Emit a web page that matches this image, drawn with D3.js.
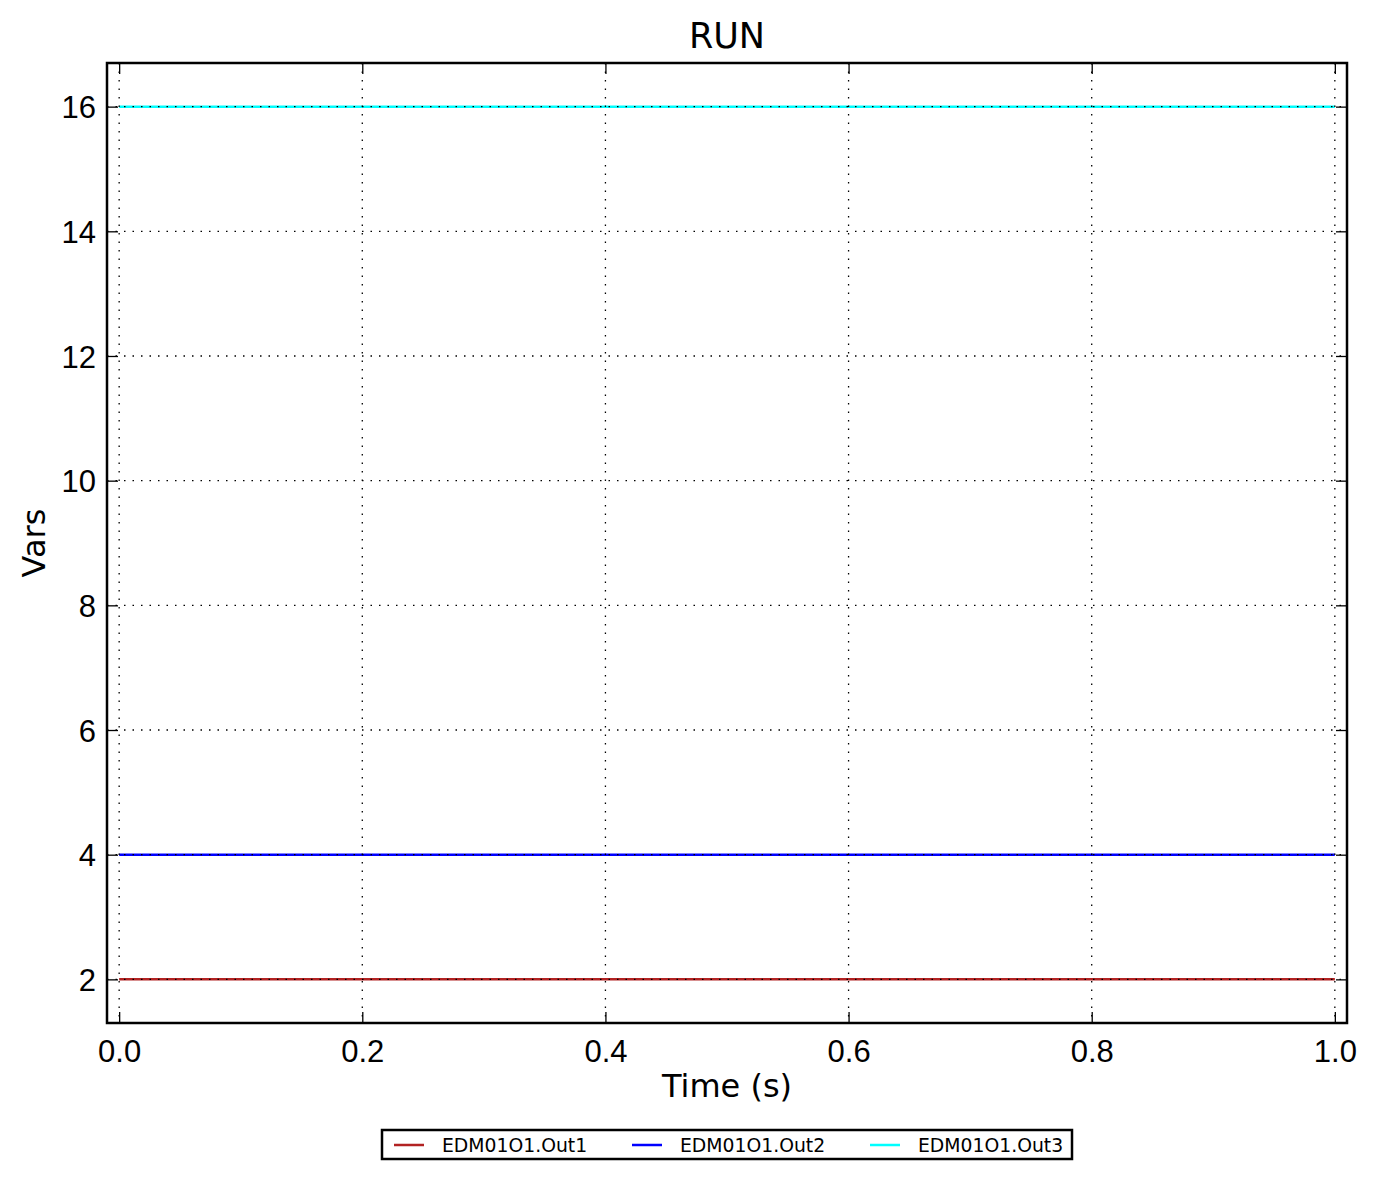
<!DOCTYPE html>
<html>
<head>
<meta charset="utf-8">
<script src="https://cdn.jsdelivr.net/npm/d3@7"></script>
<style>
  body { margin: 0; background: #fff; }
  svg { font-family: "DejaVu Sans", sans-serif; }
</style>
</head>
<body>
<div id="chart"></div>
<script>
// data
var times = [0.0, 1.0]
var out1 = [2, 2]
var out2 = [4, 4]
var out3 = [16, 16]
var seriesNames = ["EDM01O1.Out1", "EDM01O1.Out2", "EDM01O1.Out3"]
var seriesColors = ["#b22222", "#0000ff", "#00ffff"]
var xTicks = [0.0, 0.2, 0.4, 0.6, 0.8, 1.0]
var yTicks = [2, 4, 6, 8, 10, 12, 14, 16]

var W = 1378, H = 1179
var margin = {top: 63, right: 31, bottom: 156, left: 107}
var width = W - margin.left - margin.right
var height = H - margin.top - margin.bottom

var svg = d3.select("#chart").append("svg")
    .attr("width", W)
    .attr("height", H)

var g = svg.append("g")
    .attr("transform", "translate(" + margin.left + "," + margin.top + ")")

var x = d3.scaleLinear().domain([-0.01, 1.01]).range([0, width])
var y = d3.scaleLinear().domain([1.3, 16.7]).range([height, 0])

var allSeries = [out1, out2, out3]

var line = d3.line()
    .x(function(d, i){ return x(times[i]) })
    .y(function(d){ return y(d) })

allSeries.forEach(function(s, k){
    g.append("path")
        .datum(s)
        .attr("d", line)
        .attr("fill", "none")
        .attr("stroke", seriesColors[k])
        .attr("stroke-width", 2.5)
})

// grid, dotted, drawn over the lines
g.selectAll(".vgrid").data(xTicks).enter().append("line")
    .attr("x1", function(d){ return x(d) }).attr("x2", function(d){ return x(d) })
    .attr("y1", 0).attr("y2", height)
    .attr("stroke", "#000").attr("stroke-width", 1.3)
    .attr("stroke-dasharray", "1.5,7")
g.selectAll(".hgrid").data(yTicks).enter().append("line")
    .attr("y1", function(d){ return y(d) }).attr("y2", function(d){ return y(d) })
    .attr("x1", 0).attr("x2", width)
    .attr("stroke", "#000").attr("stroke-width", 1.3)
    .attr("stroke-dasharray", "1.5,7")

// inward ticks on all four sides
var tl = 11
var xa = d3.axisBottom(x).tickValues(xTicks).tickSize(-tl).tickPadding(17).tickFormat(d3.format(".1f"))
var ya = d3.axisLeft(y).tickValues(yTicks).tickSize(-tl).tickPadding(11).tickFormat(d3.format("d"))

var gx = g.append("g").attr("transform", "translate(0," + height + ")").call(xa)
var gy = g.append("g").call(ya)
g.append("g").call(d3.axisTop(x).tickValues(xTicks).tickSize(-tl).tickFormat(""))
g.append("g").attr("transform", "translate(" + width + ",0)")
    .call(d3.axisRight(y).tickValues(yTicks).tickSize(-tl).tickFormat(""))

g.selectAll(".domain").remove()
g.selectAll(".tick line").attr("stroke", "#000").attr("stroke-width", 1.3)
gx.selectAll("text").attr("font-size", 31).attr("fill", "#000")
gy.selectAll("text").attr("font-size", 31).attr("fill", "#000").attr("dy", "0.36em")

g.append("rect")
    .attr("width", width).attr("height", height)
    .attr("fill", "none").attr("stroke", "#000").attr("stroke-width", 2.5)

svg.append("text")
    .attr("x", margin.left + width / 2).attr("y", 48)
    .attr("text-anchor", "middle").attr("font-size", 35)
    .text("RUN")

svg.append("text")
    .attr("x", margin.left + width / 2).attr("y", 1097)
    .attr("text-anchor", "middle").attr("font-size", 32)
    .text("Time (s)")

svg.append("text")
    .attr("transform", "translate(45," + (margin.top + height / 2) + ") rotate(-90)")
    .attr("text-anchor", "middle").attr("font-size", 32)
    .text("Vars")

// legend
var leg = svg.append("g").attr("transform", "translate(382,1130)")
leg.append("rect").attr("width", 690).attr("height", 29)
    .attr("fill", "#fff").attr("stroke", "#000").attr("stroke-width", 2.5)
var legItem = leg.selectAll(".item").data(seriesNames).enter().append("g")
    .attr("transform", function(d, i){ return "translate(" + (12 + i * 238) + ",0)" })
legItem.append("line")
    .attr("x1", 0).attr("x2", 30).attr("y1", 15).attr("y2", 15)
    .attr("stroke", function(d, i){ return seriesColors[i] }).attr("stroke-width", 2.5)
legItem.append("text")
    .attr("x", 48).attr("y", 21.5).attr("font-size", 18.8)
    .text(function(d){ return d })
</script>
</body>
</html>
